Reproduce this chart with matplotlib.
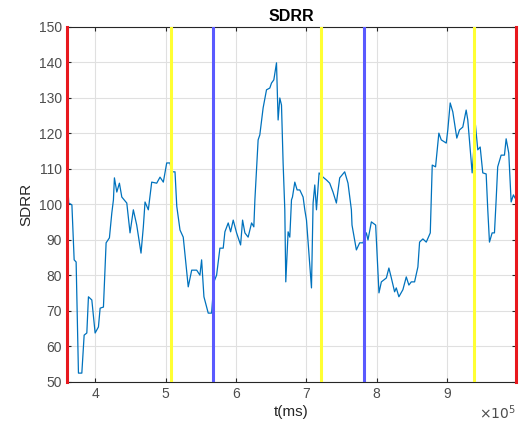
import numpy as np
import matplotlib
matplotlib.use("Agg")
from matplotlib import pyplot as plt

plt.rcParams['font.family'] = ['Liberation Sans', 'DejaVu Sans']

# time in units of 1e5 ms, SDRR values
t = [3.607, 3.615, 3.625, 3.670, 3.702, 3.730, 3.763, 3.811, 3.844, 3.882,
     3.905, 3.953, 4.000, 4.047, 4.071, 4.118, 4.156, 4.203, 4.237, 4.260,
     4.274, 4.308, 4.345, 4.379, 4.450, 4.496, 4.543, 4.591, 4.652, 4.685,
     4.709, 4.756, 4.804, 4.875, 4.922, 4.969, 5.017, 5.064, 5.088, 5.135,
     5.160, 5.206, 5.252, 5.323, 5.372, 5.443, 5.489, 5.513, 5.546, 5.607,
     5.655, 5.688, 5.726, 5.773, 5.820, 5.844, 5.891, 5.925, 5.962, 6.010,
     6.067, 6.095, 6.128, 6.174, 6.223, 6.255, 6.270, 6.316, 6.340, 6.387,
     6.435, 6.482, 6.506, 6.539, 6.577, 6.600, 6.624, 6.648, 6.671, 6.695,
     6.709, 6.742, 6.766, 6.790, 6.804, 6.837, 6.870, 6.908, 6.955, 6.979,
     7.003, 7.074, 7.097, 7.121, 7.145, 7.182, 7.238, 7.287, 7.333, 7.380,
     7.428, 7.475, 7.546, 7.593, 7.641, 7.650, 7.712, 7.759, 7.806, 7.854,
     7.877, 7.925, 7.986, 8.033, 8.067, 8.138, 8.174, 8.209, 8.255, 8.279,
     8.316, 8.373, 8.421, 8.458, 8.492, 8.539, 8.586, 8.610, 8.657, 8.705,
     8.762, 8.776, 8.790, 8.837, 8.884, 8.918, 8.989, 9.011, 9.045, 9.082,
     9.139, 9.177, 9.224, 9.272, 9.295, 9.357, 9.404, 9.437, 9.471, 9.508,
     9.556, 9.579, 9.603, 9.641, 9.674, 9.698, 9.720, 9.769, 9.816, 9.840,
     9.877, 9.911, 9.943, 9.967, 9.980]
sdrr = [114.2, 104.0, 100.4, 99.9, 84.4, 83.8, 52.5, 52.5, 63.2, 63.8,
        74.0, 73.1, 63.8, 65.5, 70.8, 71.1, 89.2, 90.6, 97.6, 101.3,
        107.5, 103.5, 106.0, 102.1, 100.4, 92.0, 98.5, 94.2, 86.3, 93.7,
        100.7, 98.5, 106.3, 106.0, 107.7, 106.3, 111.7, 111.7, 109.2, 109.2,
        99.5, 92.8, 90.8, 76.8, 81.5, 81.5, 80.1, 84.4, 74.0, 69.4,
        69.4, 78.2, 80.1, 87.7, 87.7, 92.3, 94.8, 92.3, 95.6, 92.0,
        88.6, 95.6, 92.0, 90.8, 94.8, 93.7, 101.3, 118.2, 119.6, 127.2,
        132.3, 132.8, 134.2, 135.1, 139.9, 123.8, 130.0, 128.0, 111.7, 98.5,
        78.2, 92.3, 90.8, 101.3, 102.1, 106.3, 104.1, 104.1, 102.1, 98.5,
        95.6, 76.5, 100.4, 105.5, 98.5, 108.9, 107.7, 106.9, 106.0, 103.5,
        100.4, 107.5, 109.2, 106.0, 98.5, 94.2, 87.2, 89.2, 89.2, 92.0,
        90.0, 95.1, 94.2, 75.1, 78.2, 79.3, 82.1, 79.3, 75.4, 76.5,
        74.0, 76.0, 79.6, 77.3, 78.2, 78.2, 82.4, 89.4, 90.3, 89.4,
        92.0, 101.3, 111.1, 110.6, 120.1, 118.2, 117.3, 121.0, 128.6, 126.1,
        118.7, 121.0, 121.8, 126.6, 123.8, 108.9, 122.4, 115.4, 116.2, 108.9,
        108.6, 98.5, 89.4, 92.0, 92.0, 101.3, 110.6, 113.9, 113.9, 118.5,
        114.5, 100.7, 102.7, 101.8, 101.5]

red_lines = [3.60, 9.98]
yellow_lines = [5.08, 7.21, 9.38]
blue_lines = [5.674, 7.82]

scale = 1e5
t_ms = np.array(t) * scale

fig = plt.figure(figsize=(5.2, 4.29), dpi=100)
ax = fig.add_axes([0.1288, 0.1096, 0.8635, 0.8275])

ax.plot(t_ms, sdrr, color="#0072BD", linewidth=0.9, zorder=3)
for xv in red_lines:
    ax.axvline(xv * scale, color="#E8181E", linewidth=2.2, zorder=4, clip_on=False)
for xv in yellow_lines:
    ax.axvline(xv * scale, color="#FFFF33", linewidth=2.2, zorder=4)
for xv in blue_lines:
    ax.axvline(xv * scale, color="#5A5AFF", linewidth=2.2, zorder=4)

ax.set_xlim(3.6 * scale, 9.98 * scale)
ax.set_ylim(50, 150)
ax.set_yticks(np.arange(50, 151, 10))
ax.set_xticks(np.arange(4, 10) * scale)
ax.set_xticklabels([str(v) for v in range(4, 10)])
ax.grid(True, color="#E0E0E0", linewidth=0.8)
ax.set_axisbelow(True)
ax.tick_params(direction="in", length=3, colors="#262626", labelsize=10,
               labelcolor="#4D4D4D", top=True, right=True)
for s in ax.spines.values():
    s.set_color("#262626")
    s.set_linewidth(0.8)

ax.set_title("SDRR", fontsize=11.5, fontweight="bold", pad=4)
ax.set_ylabel("SDRR", fontsize=11, color="#262626")
ax.set_xlabel("t(ms)", fontsize=11, color="#262626", labelpad=3)
ax.text(1.0, -0.06, r"$\times10^5$", transform=ax.transAxes, ha="right",
        va="top", fontsize=10, color="#4D4D4D")

fig.savefig("out.png", dpi=100)
